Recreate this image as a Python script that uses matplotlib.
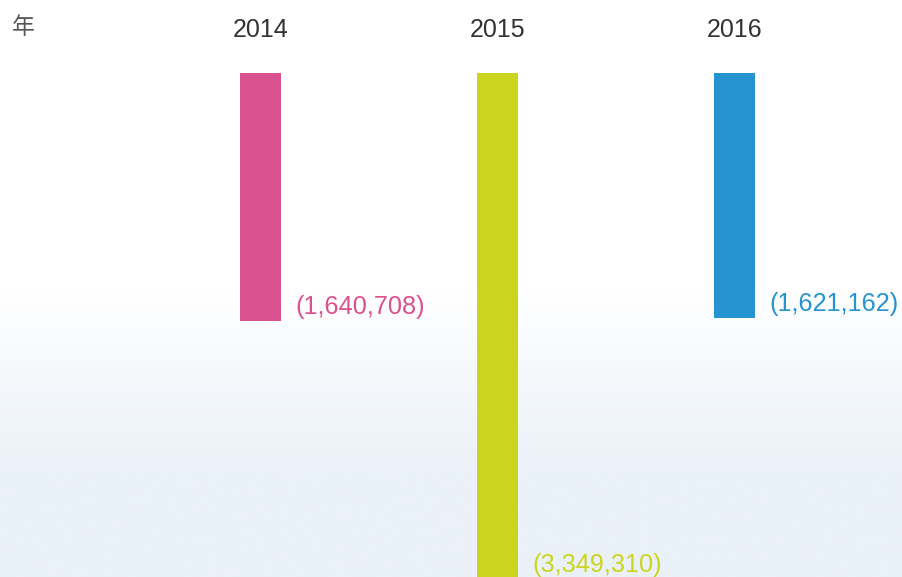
import numpy as np
import matplotlib
matplotlib.use("Agg")
import matplotlib.pyplot as plt
from matplotlib.colors import LinearSegmentedColormap

years = ["2014", "2015", "2016"]
values = [1640708, 3349310, 1621162]
labels = ["(1,640,708)", "(3,349,310)", "(1,621,162)"]
colors = ["#d9528f", "#ccd51e", "#2594d0"]

W, H = 902, 577
fig = plt.figure(figsize=(W / 100, H / 100), dpi=100)
ax = fig.add_axes([0, 0, 1, 1])

# background gradient (white -> light blue)
top_white = 290 / H
bottom_blue = 475 / H
ys = np.linspace(0, 1, 400)  # 0 = top
t = np.clip((ys - top_white) / (bottom_blue - top_white), 0, 1)
grad = t[:, None]
cmap = LinearSegmentedColormap.from_list("bg", ["#ffffff", "#eaf1f8"])
ax.imshow(grad, aspect="auto", cmap=cmap, extent=[0, 1, 0, 1],
          transform=ax.transAxes, zorder=0, vmin=0, vmax=1)

# scales: pixel mapping
px_per_unit = 248 / 1640708
y0_px = 73
x_spacing = 237
x0_px = 260.5
ax.set_xlim((0 - x0_px) / x_spacing, (W - x0_px) / x_spacing)
ax.set_ylim((H - y0_px) / px_per_unit, (0 - y0_px) / px_per_unit)

x = np.arange(len(years))
bar_w = 41 / x_spacing
ax.bar(x, values, width=bar_w, color=colors, bottom=0, zorder=2)

unit_per_px = 1 / px_per_unit
for xi, yr, v, lab, c in zip(x, years, values, labels, colors):
    ax.text(xi, -43 * unit_per_px, yr, ha="center", va="center",
            fontsize=18, color="#333333", family=["Liberation Sans"], zorder=3)
    ax.text(xi + bar_w / 2 + 14 / x_spacing, v - 14 * unit_per_px, lab,
            ha="left", va="center", fontsize=18.2, color=c,
            family=["Liberation Sans"], zorder=3)

fig.text(12 / W, 1 - 28 / H, "年", ha="left", va="center", fontsize=16.5,
         color="#555555", family=["Noto Sans CJK SC", "DejaVu Sans"])

ax.axis("off")
fig.savefig("out.png", dpi=100)
